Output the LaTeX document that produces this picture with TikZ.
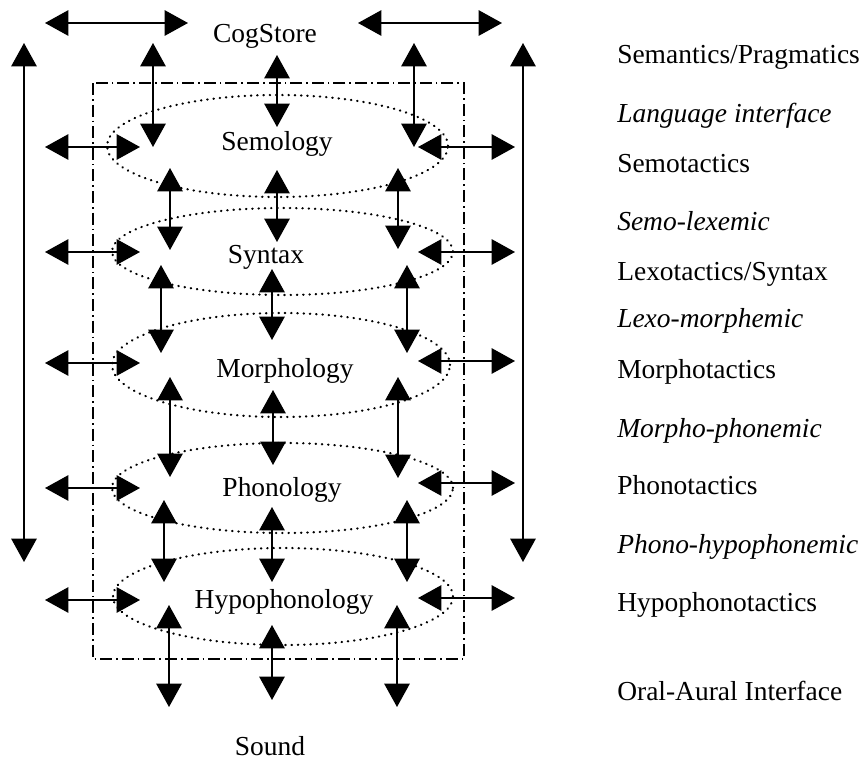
\documentclass[tikz,border=0pt]{standalone}
\usepackage{fontspec}
\setmainfont{Liberation Serif}
\usetikzlibrary{arrows.meta,shapes.geometric}
\begin{document}
\begin{tikzpicture}[x=0.75pt,y=-0.75pt,
  dblarrow/.style={line width=1.3pt,{Triangle[length=17.5pt,width=19pt]}-{Triangle[length=17.5pt,width=19pt]}},
  ring/.style={draw,ellipse,inner sep=0pt,line width=1.7pt,line cap=round,dash pattern=on 0.3pt off 4.4pt},
  frame/.style={line width=1.1pt,dash pattern=on 9pt off 3pt on 1.2pt off 3pt},
  lbl/.style={inner sep=0pt,font=\fontsize{20.6pt}{24pt}\selectfont},
  side/.style={lbl,anchor=base west},
  sidei/.style={side,font=\fontsize{20.6pt}{24pt}\selectfont\itshape}]
\useasboundingbox (0,0) rectangle (863,760);

% frame
\draw[frame] (93,83) rectangle (464,659);

% ellipses
\node[ring,minimum width=255.75pt,minimum height=76.5pt] (sem) at (277.5,146) {};
\node[ring,minimum width=255.75pt,minimum height=65.25pt] (syn) at (282.5,251.5) {};
\node[ring,minimum width=253.5pt,minimum height=78pt] (mor) at (281,365) {};
\node[ring,minimum width=255.75pt,minimum height=67.5pt] (pho) at (282.5,488) {};
\node[ring,minimum width=255pt,minimum height=72.75pt] (hyp) at (283,596.5) {};

% central labels
\node[lbl,anchor=base] (cog) at (265,42) {CogStore};
\node[lbl,anchor=base] (semt) at (277,150) {Semology};
\node[lbl,anchor=base] (synt) at (266,263) {Syntax};
\node[lbl,anchor=base] (mort) at (285,377) {Morphology};
\node[lbl,anchor=base] (phot) at (282,496) {Phonology};
\node[lbl,anchor=base] (hypt) at (284,608) {Hypophonology};
\node[lbl,anchor=base] (snd) at (270,755) {Sound};

% side labels
\node[side]  (r1)  at (617,63)  {Semantics/Pragmatics};
\node[sidei] (r2)  at (617,122) {Language interface};
\node[side]  (r3)  at (617,172) {Semotactics};
\node[sidei] (r4)  at (617,230) {Semo-lexemic};
\node[side]  (r5)  at (617,280) {Lexotactics/Syntax};
\node[sidei] (r6)  at (617,327) {Lexo-morphemic};
\node[side]  (r7)  at (617,378) {Morphotactics};
\node[sidei] (r8)  at (617,437) {Morpho-phonemic};
\node[side]  (r9)  at (617,494) {Phonotactics};
\node[sidei] (r10) at (617,553) {Phono-hypophonemic};
\node[side]  (r11) at (617,611) {Hypophonotactics};
\node[side]  (r12) at (617,700) {Oral-Aural Interface};

% top and long arrows
\coordinate (tl1) at (45,23);  \coordinate (tl2) at (188,23);
\coordinate (tr1) at (358,23); \coordinate (tr2) at (502,23);
\coordinate (ll1) at (24,43);  \coordinate (ll2) at (24,562);
\coordinate (rl1) at (523,43); \coordinate (rl2) at (523,562);
\draw[dblarrow] (tl1) -- (tl2);
\draw[dblarrow] (tr1) -- (tr2);
\draw[dblarrow] (ll1) -- (ll2);
\draw[dblarrow] (rl1) -- (rl2);

% vertical arrows
\foreach \n/\x/\ya/\yb in {
  1/153/43/147, 2/277/55/127, 3/414/43/147,
  4/170/168/250, 5/277/170/242, 6/398/168/249,
  7/161/265/353, 8/272/269/340, 9/407/265/353,
  10/170/377/477, 11/273/390/465, 12/398/377/478,
  13/164/500/582, 14/272/507/582, 15/407/500/582,
  16/169/605/707, 17/272/625/700, 18/397/605/707}{
  \coordinate (va\n) at (\x,\ya);
  \coordinate (vb\n) at (\x,\yb);
  \draw[dblarrow] (va\n) -- (vb\n);
}

% horizontal arrows, left and right
\foreach \n/\yl/\yr in {1/147/147, 2/252/252, 3/363/361, 4/488/483, 5/600/598}{
  \coordinate (hla\n) at (45,\yl);  \coordinate (hlb\n) at (140,\yl);
  \coordinate (hra\n) at (418,\yr); \coordinate (hrb\n) at (515,\yr);
  \draw[dblarrow] (hla\n) -- (hlb\n);
  \draw[dblarrow] (hra\n) -- (hrb\n);
}
\end{tikzpicture}
\end{document}
